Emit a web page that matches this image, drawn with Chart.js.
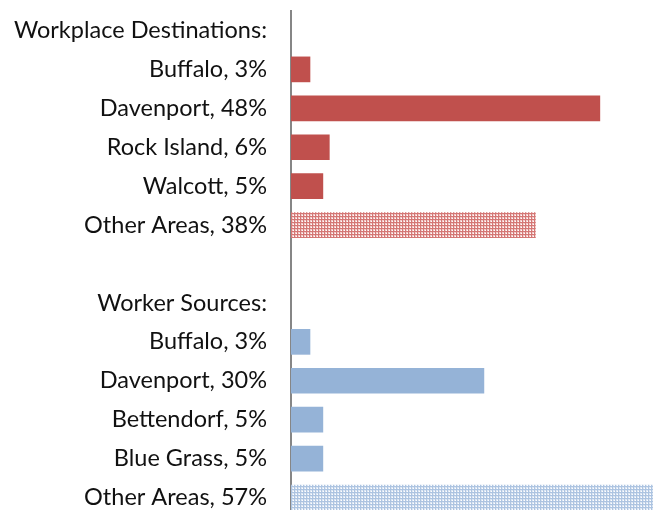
<!DOCTYPE html>
<html>
<head>
<meta charset="utf-8">
<script src="https://cdn.jsdelivr.net/npm/chart.js@4"></script>
<style>
  html, body { margin: 0; padding: 0; background: #fff; overflow: hidden; }
  canvas { display: block; }
</style>
</head>
<body>
<canvas id="chart" width="653" height="517"></canvas>
<script>
// workplace destinations (where residents go to work)
const destHeader = "Workplace Destinations:";
const destPlaces = ["Buffalo", "Davenport", "Rock Island", "Walcott", "Other Areas"];
const destShares = [3, 48, 6, 5, 38];

// worker sources (where workers come from)
const sourceHeader = "Worker Sources:";
const sourcePlaces = ["Buffalo", "Davenport", "Bettendorf", "Blue Grass", "Other Areas"];
const sourceShares = [3, 30, 5, 5, 57];

const red = "#C0504D";
const blue = "#95B3D7";

// small grid tile for the "Other Areas" bars
function checker(dark, light) {
  const c = document.createElement("canvas");
  c.width = 3; c.height = 3;
  const g = c.getContext("2d");
  g.fillStyle = light;
  g.fillRect(0, 0, 3, 3);
  g.fillStyle = dark;
  g.fillRect(0, 0, 3, 1);
  g.fillRect(0, 0, 1, 3);
  g.fillStyle = "#ffffff";
  g.fillRect(2, 2, 1, 1);
  return g.createPattern(c, "repeat");
}

const labels = [destHeader];
const values = [null];
const colors = [null];
destPlaces.forEach(function (p, i) {
  labels.push(p + ", " + destShares[i] + "%");
  values.push(destShares[i]);
  colors.push(p === "Other Areas" ? checker("#D47775", "#F1CBCA") : red);
});
labels.push("");
values.push(null);
colors.push(null);
labels.push(sourceHeader);
values.push(null);
colors.push(null);
sourcePlaces.forEach(function (p, i) {
  labels.push(p + ", " + sourceShares[i] + "%");
  values.push(sourceShares[i]);
  colors.push(p === "Other Areas" ? checker("#ADC4E1", "#DCE6F3") : blue);
});

const ctx = document.getElementById("chart").getContext("2d");
new Chart(ctx, {
  type: "bar",
  data: {
    labels: labels,
    datasets: [{
      data: values,
      backgroundColor: colors,
      borderWidth: 0,
      categoryPercentage: 1,
      barPercentage: 0.66
    }]
  },
  options: {
    indexAxis: "y",
    responsive: false,
    animation: false,
    layout: { padding: { top: 11, right: 0, bottom: 0, left: 0 } },
    plugins: {
      legend: { display: false },
      tooltip: { enabled: false }
    },
    scales: {
      x: {
        display: false,
        min: 0,
        max: 56.2
      },
      y: {
        grid: { display: false, drawTicks: false },
        border: { display: true, color: "#868686", width: 2 },
        ticks: {
          color: "#111",
          padding: 24,
          autoSkip: false,
          font: { family: "Lato", size: 23.5 }
        },
        afterFit: function (scale) {
          scale.width = 291;
          scale.paddingTop = 0;
          scale.paddingBottom = 0;
        }
      }
    }
  }
});
</script>
</body>
</html>
